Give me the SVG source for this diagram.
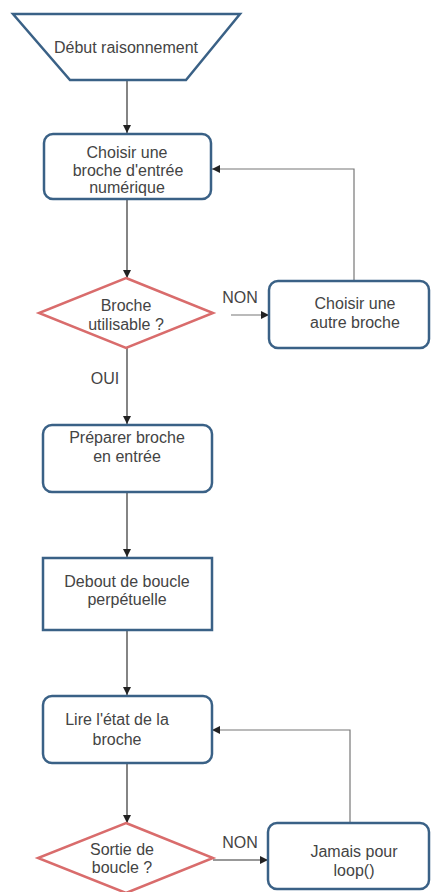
<svg xmlns="http://www.w3.org/2000/svg" width="431" height="892" viewBox="0 0 431 892">
<defs>
<marker id="arr" viewBox="0 0 10 10" refX="10" refY="5" markerWidth="8" markerHeight="8" markerUnits="userSpaceOnUse" orient="auto">
<path d="M0,0 L10,5 L0,10 z" fill="#222"/>
</marker>
<style>
.box{fill:#ffffff;stroke:#3a6186;stroke-width:2.5}
.dia{fill:#ffffff;stroke:#d96c6c;stroke-width:2.5}
.t{font-family:"Liberation Sans",Arial,sans-serif;font-size:16px;fill:#444;text-anchor:middle}
.c{fill:none;stroke:#333;stroke-width:1.2}
.g{fill:none;stroke:#777;stroke-width:1.2}
</style>
</defs>
<rect width="431" height="892" fill="#ffffff"/>
<g id="connectors">
<line class="c" x1="127" y1="80" x2="127" y2="133" marker-end="url(#arr)"/>
<line class="c" x1="127" y1="199" x2="127" y2="278" marker-end="url(#arr)"/>
<line class="g" x1="231" y1="315" x2="269" y2="315" marker-end="url(#arr)"/>
<polyline class="g" points="354,281 354,169 212,169" marker-end="url(#arr)"/>
<line class="c" x1="127" y1="348" x2="127" y2="424" marker-end="url(#arr)"/>
<line class="c" x1="127" y1="492" x2="127" y2="557" marker-end="url(#arr)"/>
<line class="c" x1="127" y1="630" x2="127" y2="695" marker-end="url(#arr)"/>
<polyline class="g" points="350,823 350,730 212,730" marker-end="url(#arr)"/>
<line class="c" x1="127" y1="763" x2="127" y2="823" marker-end="url(#arr)"/>
<line class="c" x1="213" y1="860" x2="268" y2="860" marker-end="url(#arr)"/>
<text class="t" x="240" y="303">NON</text>
<text class="t" x="105" y="384">OUI</text>
<text class="t" x="240" y="848">NON</text>
</g>
<g id="start">
<polygon class="box" points="13,14 240,14 186,80 70,80"/>
<text class="t" x="126" y="53">Début raisonnement</text>
</g>
<g id="choisir">
<rect class="box" x="44" y="134" width="167" height="65" rx="9"/>
<text class="t" x="127" y="158">Choisir une</text>
<text class="t" x="128" y="176">broche d'entrée</text>
<text class="t" x="127" y="193">numérique</text>
</g>
<g id="utilisable">
<polygon class="dia" points="126,278 213,313 126,348 39,313"/>
<text class="t" x="126" y="311">Broche</text>
<text class="t" x="126" y="330">utilisable ?</text>
</g>
<g id="autre">
<rect class="box" x="269" y="281" width="160" height="67" rx="9"/>
<text class="t" x="355" y="309">Choisir une</text>
<text class="t" x="355" y="328">autre broche</text>
</g>
<g id="preparer">
<rect class="box" x="43" y="425" width="169" height="67" rx="9"/>
<text class="t" x="127" y="443">Préparer broche</text>
<text class="t" x="127" y="462">en entrée</text>
</g>
<g id="debout">
<rect class="box" x="43" y="558" width="169" height="72"/>
<text class="t" x="127" y="587">Debout de boucle</text>
<text class="t" x="127" y="605">perpétuelle</text>
</g>
<g id="lire">
<rect class="box" x="43" y="696" width="169" height="67" rx="9"/>
<text class="t" x="117" y="725">Lire l'état de la</text>
<text class="t" x="117" y="745">broche</text>
</g>
<g id="sortie">
<polygon class="dia" points="126,823 213,858 126,893 38,858"/>
<text class="t" x="122" y="855">Sortie de</text>
<text class="t" x="122" y="873">boucle ?</text>
</g>
<g id="jamais">
<rect class="box" x="268" y="823" width="161" height="66" rx="9"/>
<text class="t" x="354" y="857">Jamais pour</text>
<text class="t" x="354" y="876">loop()</text>
</g>
</svg>
